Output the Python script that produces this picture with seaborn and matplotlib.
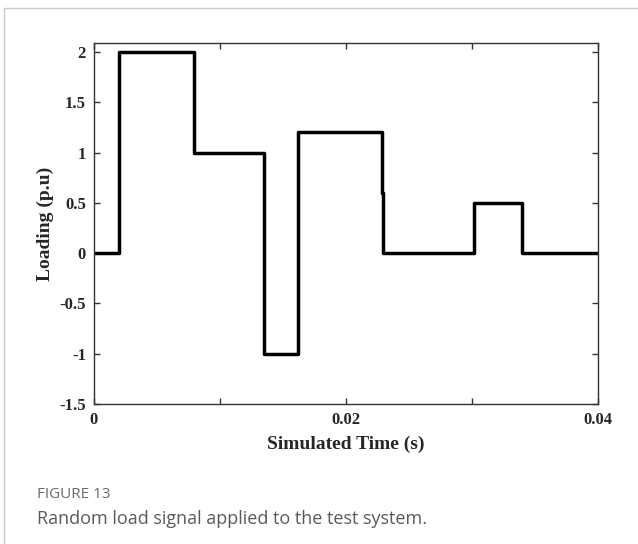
import matplotlib
matplotlib.use("Agg")
import matplotlib.pyplot as plt
import seaborn as sns
import pandas as pd
from matplotlib.patches import Rectangle

# Data (step signal: value holds from each time until the next)
time_s = [0.0, 0.002, 0.008, 0.0135, 0.0162, 0.02285, 0.02297, 0.0302, 0.034, 0.04]
loading_pu = [0.0, 2.0, 1.0, -1.0, 1.2, 0.6, 0.0, 0.5, 0.0, 0.0]
x_ticks = [0.0, 0.01, 0.02, 0.03, 0.04]
x_tick_labels = ["0", "", "0.02", "", "0.04"]
y_ticks = [-1.5, -1, -0.5, 0, 0.5, 1, 1.5, 2]
y_tick_labels = ["-1.5", "-1", "-0.5", "0", "0.5", "1", "1.5", "2"]

sns.set_theme(style="ticks")
plt.rcParams["font.family"] = ["Liberation Serif", "DejaVu Serif"]

df = pd.DataFrame({"t": time_s, "v": loading_pu})

fig = plt.figure(figsize=(6.38, 5.44), dpi=100)
fig.patch.set_facecolor("white")
fig.patches.append(Rectangle((4 / 638, -0.05), 1.1, 1 - 8 / 544 + 0.05,
                             transform=fig.transFigure, fill=False,
                             edgecolor="#c8c8c8", linewidth=1.0, zorder=0))

ax = fig.add_axes([93.6 / 638, 1 - 404 / 544, (598 - 93.6) / 638, (404 - 43) / 544])
sns.lineplot(data=df, x="t", y="v", drawstyle="steps-post", estimator=None,
             sort=False, color="black", linewidth=2.5, ax=ax)

ax.set_xlim(0, 0.04)
ax.set_ylim(-1.5, 2.09)
ax.set_xticks(x_ticks)
ax.set_xticklabels(x_tick_labels)
ax.set_yticks(y_ticks)
ax.set_yticklabels(y_tick_labels)
ax.tick_params(direction="in", length=4, width=1, color="#333333",
               top=True, right=True, labelsize=12, pad=5.5)
for lab in ax.get_xticklabels() + ax.get_yticklabels():
    lab.set_fontweight("bold")
for sp in ax.spines.values():
    sp.set_visible(True)
    sp.set_color("#333333")
    sp.set_linewidth(1.0)

ax.set_xlabel("Simulated Time (s)", fontsize=14, fontweight="bold", labelpad=6)
ax.set_ylabel("Loading (p.u)", fontsize=14, fontweight="bold", labelpad=4)

fig.text(37 / 638, 1 - 495 / 544, "FIGURE 13", fontsize=11, color="#6b6b6b",
         family=["Open Sans", "DejaVu Sans"], va="center", ha="left")
fig.text(37 / 638, 1 - 519 / 544, "Random load signal applied to the test system.",
         fontsize=13, color="#5a5a5a", family=["Open Sans", "DejaVu Sans"],
         va="center", ha="left")

fig.savefig("out.png", dpi=100)
